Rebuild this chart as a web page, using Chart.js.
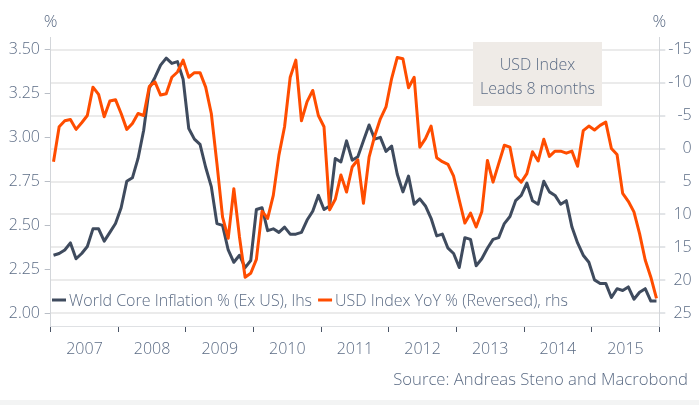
<!DOCTYPE html>
<html><head><meta charset="utf-8">
<script src="https://cdn.jsdelivr.net/npm/chart.js@4.4.1/dist/chart.umd.min.js"></script>
<style>
html,body{margin:0;padding:0;background:#fff;}
#wrap{position:relative;width:699px;height:405px;overflow:hidden;background:#fff;}
#strip{position:absolute;left:0;right:0;bottom:0;height:5px;background:#f3f4f4;}
canvas{display:block}
</style></head><body>
<div id="wrap"><canvas id="c" width="699" height="405"></canvas><div id="strip"></div></div>
<script>
// ---- data (monthly, Jan 2007 .. Dec 2015) ----
const yearLabels = ['2007','2008','2009','2010','2011','2012','2013','2014','2015'];
const inflationLabel = 'World Core Inflation % (Ex US), lhs';
const usdLabel = 'USD Index YoY % (Reversed), rhs';
const inflation = [
  2.33, 2.34, 2.36, 2.40, 2.31, 2.34, 2.38, 2.48, 2.48, 2.41, 2.46, 2.51,
  2.60, 2.75, 2.77, 2.88, 3.04, 3.28, 3.34, 3.41, 3.45, 3.42, 3.43, 3.33,
  3.05, 2.99, 2.96, 2.83, 2.72, 2.51, 2.50, 2.36, 2.29, 2.33, 2.26, 2.30,
  2.59, 2.60, 2.47, 2.48, 2.46, 2.49, 2.45, 2.45, 2.46, 2.53, 2.58, 2.67,
  2.59, 2.61, 2.88, 2.86, 2.98, 2.87, 2.89, 2.98, 3.07, 2.99, 3.00, 2.92,
  2.95, 2.79, 2.69, 2.78, 2.62, 2.65, 2.61, 2.54, 2.44, 2.45, 2.37, 2.34,
  2.26, 2.43, 2.42, 2.27, 2.31, 2.37, 2.42, 2.43, 2.51, 2.55, 2.64, 2.67,
  2.74, 2.64, 2.62, 2.75, 2.69, 2.67, 2.62, 2.64, 2.49, 2.40, 2.33, 2.29,
  2.19, 2.17, 2.17, 2.09, 2.14, 2.13, 2.15, 2.08, 2.12, 2.14, 2.07, 2.07
];
const usdYoY = [
  2.0, -3.3, -4.2, -4.4, -2.9, -3.9, -5.0, -9.3, -8.2, -4.8, -7.2, -7.4,
  -5.3, -2.9, -3.8, -5.3, -5.0, -9.4, -10.1, -8.1, -8.3, -10.8, -11.6, -13.4,
  -10.8, -11.5, -11.5, -9.3, -5.3, 2.3, 10.4, 13.6, 6.1, 13.4, 19.5, 18.9,
  16.8, 9.5, 10.6, 7.1, 1.0, -3.3, -10.8, -13.4, -4.2, -7.1, -8.8, -5.0,
  -3.3, 9.3, 7.7, 4.0, 6.6, 2.8, 1.7, 8.3, 1.3, -1.9, -4.5, -6.3,
  -10.6, -13.8, -13.6, -9.2, -10.8, -0.2, -1.5, -3.4, 1.4, 2.0, 2.4, 4.2,
  7.8, 11.3, 9.8, 11.9, 9.6, 1.8, 5.1, 2.3, -0.5, -0.2, 4.2, 5.1,
  3.8, 0.5, 1.9, -1.4, 1.2, 0.4, 0.4, 0.7, 0.4, 2.7, -2.7, -3.4,
  -2.8, -3.5, -4.0, 0.0, 0.9, 6.8, 8.0, 9.6, 12.9, 16.9, 19.5, 22.7
];
const leftTicks = [2.00, 2.25, 2.50, 2.75, 3.00, 3.25, 3.50];
const rightTicks = [-15, -10, -5, 0, 5, 10, 15, 20, 25];
const boxLines = ['USD Index', 'Leads 8 months'];
const sourceText = 'Source: Andreas Steno and Macrobond';

// ---- styling ----
const FONT = '"Open Sans", "Segoe UI", sans-serif';
const TXT = '#5c6c85';
const DARK = '#3f4b5e';
const ORANGE = '#ff4d00';

const toPts = arr => arr.map((v, i) => ({ x: i + 0.5, y: v }));

const deco = {
  id: 'deco',
  afterDraw(chart) {
    const c = chart.ctx;
    const L = chart.scales.yL, R = chart.scales.yR;
    c.save();
    c.fillStyle = TXT;
    c.textBaseline = 'middle';
    c.textAlign = 'center';
    c.font = '300 17px ' + FONT;
    c.fillText('%', L.right, 22.5);
    c.fillText('%', R.left, 22.5);
    // legend
    c.font = '300 16px ' + FONT;
    c.textAlign = 'left';
    let x = 52;
    const y = 300;
    [[DARK, inflationLabel], [ORANGE, usdLabel]].forEach(([col, lab]) => {
      c.strokeStyle = col; c.lineWidth = 3;
      c.beginPath(); c.moveTo(x, y); c.lineTo(x + 14, y); c.stroke();
      x += 17;
      c.fillStyle = TXT;
      c.fillText(lab, x, y + 1);
      x += c.measureText(lab).width + 6;
    });
    // annotation box
    c.fillStyle = '#efebe7';
    c.fillRect(473, 42, 129, 64);
    c.fillStyle = TXT;
    c.textAlign = 'center';
    c.fillText(boxLines[0], 537.5, 65);
    c.fillText(boxLines[1], 537.5, 89);
    // source
    c.font = '300 16.7px ' + FONT;
    c.textAlign = 'right';
    c.fillText(sourceText, 688, 380);
    c.restore();
  }
};

new Chart(document.getElementById('c'), {
  type: 'line',
  data: {
    datasets: [
      { label: inflationLabel, data: toPts(inflation), yAxisID: 'yL', borderColor: DARK, borderWidth: 3,
        pointRadius: 0, tension: 0, order: 2, borderJoinStyle: 'round' },
      { label: usdLabel, data: toPts(usdYoY), yAxisID: 'yR', borderColor: ORANGE, borderWidth: 3,
        pointRadius: 0, tension: 0, order: 1, borderJoinStyle: 'round' }
    ]
  },
  options: {
    responsive: false,
    animation: false,
    devicePixelRatio: 1,
    layout: { padding: { top: 37, right: 7.3, left: 0, bottom: 0 } },
    plugins: { legend: { display: false }, tooltip: { enabled: false } },
    scales: {
      x: {
        type: 'linear', position: 'bottom', min: 0, max: 108,
        afterBuildTicks: s => { s.ticks = [...yearLabels, ''].map((_, k) => ({ value: k * 12 })); },
        afterFit: s => { s.height = 79; },
        grid: { drawOnChartArea: false, drawTicks: true, tickLength: 6, tickColor: '#4a5466', tickWidth: 1 },
        border: { display: true, color: '#dfe1e4', width: 1 },
        ticks: { autoSkip: false, maxRotation: 0, labelOffset: 33.8, padding: 8, color: TXT,
          font: { family: FONT, size: 16, weight: '300' },
          callback: v => yearLabels[Math.round(v / 12)] || '' }
      },
      yL: {
        position: 'left', min: 1.928, max: 3.57,
        afterBuildTicks: s => { s.ticks = leftTicks.map(v => ({ value: v })); },
        afterFit: s => { s.width = 50.7; },
        grid: { drawOnChartArea: false, drawTicks: true, tickLength: 6, tickColor: '#b9bec6' },
        border: { display: true, color: '#d3d6da', width: 1 },
        ticks: { padding: 4.7, color: TXT, font: { family: FONT, size: 16, weight: '300' },
          callback: v => v.toFixed(2) }
      },
      yR: {
        position: 'right', reverse: true, min: -16.9, max: 26.9,
        afterBuildTicks: s => { s.ticks = rightTicks.map(v => ({ value: v })); },
        afterFit: s => { s.width = 32.4; },
        grid: { drawOnChartArea: true, color: '#ebebeb', lineWidth: 2, drawTicks: true, tickLength: 6, tickColor: '#c5cad0', tickWidth: 1 },
        border: { display: true, color: '#d3d6da', width: 1 },
        ticks: { crossAlign: 'far', color: TXT, font: { family: FONT, size: 16, weight: '300' },
          callback: v => String(v) }
      }
    }
  },
  plugins: [deco]
});
</script>
</body></html>
